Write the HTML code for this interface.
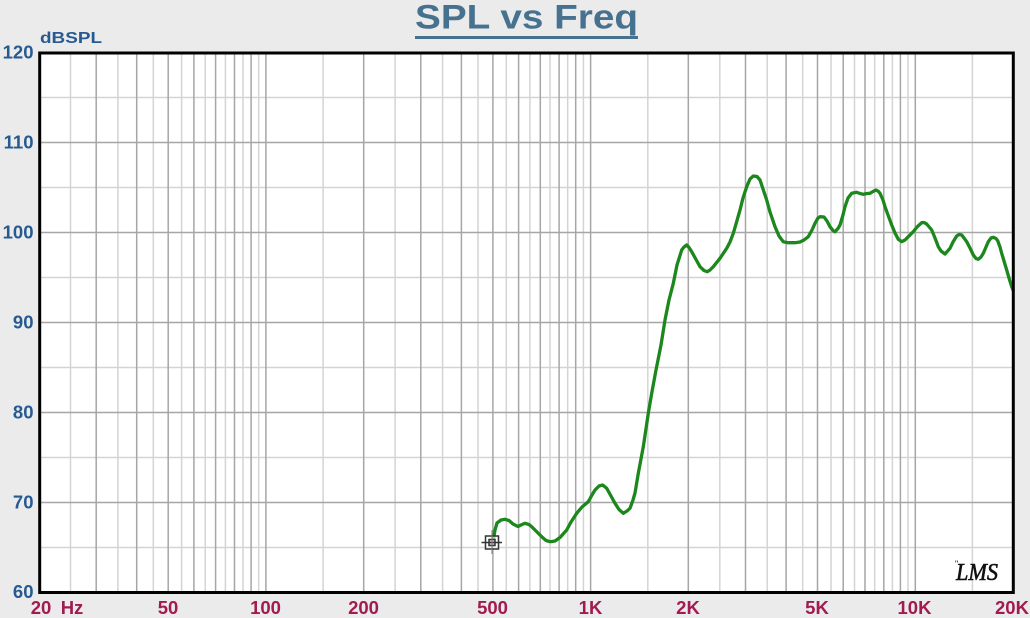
<!DOCTYPE html>
<html>
<head>
<meta charset="utf-8">
<style>
html,body{margin:0;padding:0;background:#ebebeb;}
svg{display:block;}
</style>
</head>
<body>
<svg width="1030" height="618" viewBox="0 0 1030 618" xmlns="http://www.w3.org/2000/svg">
<rect x="0" y="0" width="1030" height="618" fill="#ebebeb"/>
<rect x="39.7" y="53" width="973.6" height="539.5" fill="#ffffff"/>

<!-- light vertical grid (half multiples) -->
<g stroke="#d4d4d4" stroke-width="1.5">
<line x1="70.5" y1="53" x2="70.5" y2="592.5"/>
<line x1="117.9" y1="53" x2="117.9" y2="592.5"/>
<line x1="153.3" y1="53" x2="153.3" y2="592.5"/>
<line x1="181.6" y1="53" x2="181.6" y2="592.5"/>
<line x1="205.2" y1="53" x2="205.2" y2="592.5"/>
<line x1="225.4" y1="53" x2="225.4" y2="592.5"/>
<line x1="243.0" y1="53" x2="243.0" y2="592.5"/>
<line x1="258.7" y1="53" x2="258.7" y2="592.5"/>
<line x1="323.1" y1="53" x2="323.1" y2="592.5"/>
<line x1="395.1" y1="53" x2="395.1" y2="592.5"/>
<line x1="442.6" y1="53" x2="442.6" y2="592.5"/>
<line x1="478.0" y1="53" x2="478.0" y2="592.5"/>
<line x1="506.3" y1="53" x2="506.3" y2="592.5"/>
<line x1="529.9" y1="53" x2="529.9" y2="592.5"/>
<line x1="550.0" y1="53" x2="550.0" y2="592.5"/>
<line x1="567.7" y1="53" x2="567.7" y2="592.5"/>
<line x1="583.4" y1="53" x2="583.4" y2="592.5"/>
<line x1="647.8" y1="53" x2="647.8" y2="592.5"/>
<line x1="719.8" y1="53" x2="719.8" y2="592.5"/>
<line x1="767.2" y1="53" x2="767.2" y2="592.5"/>
<line x1="802.7" y1="53" x2="802.7" y2="592.5"/>
<line x1="831.0" y1="53" x2="831.0" y2="592.5"/>
<line x1="854.5" y1="53" x2="854.5" y2="592.5"/>
<line x1="874.7" y1="53" x2="874.7" y2="592.5"/>
<line x1="892.4" y1="53" x2="892.4" y2="592.5"/>
<line x1="908.0" y1="53" x2="908.0" y2="592.5"/>
<line x1="972.4" y1="53" x2="972.4" y2="592.5"/>
</g>
<!-- light horizontal grid (5 dB) -->
<g stroke="#d4d4d4" stroke-width="1.5">
<line x1="39.7" y1="97.5" x2="1013.3" y2="97.5"/>
<line x1="39.7" y1="187.5" x2="1013.3" y2="187.5"/>
<line x1="39.7" y1="277.5" x2="1013.3" y2="277.5"/>
<line x1="39.7" y1="367.5" x2="1013.3" y2="367.5"/>
<line x1="39.7" y1="457.5" x2="1013.3" y2="457.5"/>
<line x1="39.7" y1="547.5" x2="1013.3" y2="547.5"/>
</g>
<!-- dark vertical grid -->
<g stroke="#a6a6a6" stroke-width="1.5">
<line x1="96.2" y1="53" x2="96.2" y2="592.5"/>
<line x1="136.7" y1="53" x2="136.7" y2="592.5"/>
<line x1="168.2" y1="53" x2="168.2" y2="592.5"/>
<line x1="193.9" y1="53" x2="193.9" y2="592.5"/>
<line x1="215.6" y1="53" x2="215.6" y2="592.5"/>
<line x1="234.5" y1="53" x2="234.5" y2="592.5"/>
<line x1="251.1" y1="53" x2="251.1" y2="592.5"/>
<line x1="265.9" y1="53" x2="265.9" y2="592.5"/>
<line x1="363.7" y1="53" x2="363.7" y2="592.5"/>
<line x1="420.8" y1="53" x2="420.8" y2="592.5"/>
<line x1="461.4" y1="53" x2="461.4" y2="592.5"/>
<line x1="492.9" y1="53" x2="492.9" y2="592.5"/>
<line x1="518.6" y1="53" x2="518.6" y2="592.5"/>
<line x1="540.3" y1="53" x2="540.3" y2="592.5"/>
<line x1="559.1" y1="53" x2="559.1" y2="592.5"/>
<line x1="575.7" y1="53" x2="575.7" y2="592.5"/>
<line x1="590.6" y1="53" x2="590.6" y2="592.5"/>
<line x1="688.3" y1="53" x2="688.3" y2="592.5"/>
<line x1="745.5" y1="53" x2="745.5" y2="592.5"/>
<line x1="786.1" y1="53" x2="786.1" y2="592.5"/>
<line x1="817.5" y1="53" x2="817.5" y2="592.5"/>
<line x1="843.2" y1="53" x2="843.2" y2="592.5"/>
<line x1="865.0" y1="53" x2="865.0" y2="592.5"/>
<line x1="883.8" y1="53" x2="883.8" y2="592.5"/>
<line x1="900.4" y1="53" x2="900.4" y2="592.5"/>
<line x1="915.3" y1="53" x2="915.3" y2="592.5"/>
</g>
<!-- dark horizontal grid (10 dB) -->
<g stroke="#a6a6a6" stroke-width="1.5">
<line x1="39.7" y1="142.5" x2="1013.3" y2="142.5"/>
<line x1="39.7" y1="232.5" x2="1013.3" y2="232.5"/>
<line x1="39.7" y1="322.5" x2="1013.3" y2="322.5"/>
<line x1="39.7" y1="412.5" x2="1013.3" y2="412.5"/>
<line x1="39.7" y1="502.5" x2="1013.3" y2="502.5"/>
</g>

<!-- curve -->
<polyline fill="none" stroke="#1c871c" stroke-width="3.3" stroke-linejoin="round" stroke-linecap="round"
points="493.5,539 495,530 497,523 501,520 505,519.3 509,520.5 513,524 518,526.5 522,524.5 525,523.3 529,524.5 532,527 537,532 542,537 546,540.5 550,541.7 555,541 560,537.5 566.7,530 571,522 576.7,513.3 582,507 588.3,501.7 592,495 595,490 599,486 602.7,485 606.7,488.3 611,496 615,503.3 619,509.5 623.3,513.3 627,511 630,508.3 633,500 635,493 638.3,473.3 643.3,446.7 648.3,413.3 651.7,393.3 656,370 661,345 665,320 669,300 673.3,283.3 677,265 681.7,250 684,247 686.7,245 689,247.5 691.7,251.7 696,259.5 700,266.7 704,270.5 707.3,271.7 710,270 713.3,266.7 720,258.3 726.7,248.3 730,242 733.3,233.3 736,224 740,210 743,198 746.7,186.7 750,179 753.3,176 757,176.5 760,180 763,189 766.7,200 770,212 775,226.7 779,236 783.3,241.7 788,242.7 795,242.7 800,242 804,240 808.3,236.7 812,230 815,223.3 818,218 820,216.7 824,217 827,221 830,226.7 833,230.5 835,231.7 838,228.5 840,225 843,215 845,206.7 848,198 851.7,193.3 856.7,192.3 860,193.5 863.3,194.3 867,193.5 870,193.3 873,191.5 876,190 878.5,191.5 880,193.3 883,200 885,206.7 888,215 891.7,225 895,233 898.3,239.3 901.7,241.7 905,240 908.3,236.7 913.3,231.7 917,227 921.7,222.7 924,222.5 926.7,224 931.7,230 935,238 938.3,246.7 941,251 945,254 950,248.3 953,242 956.7,236 959,234.5 961.7,235 964,238 966.7,241.7 970,248 973.3,255 976,258.5 978.3,259.3 981,257 983.3,253.3 986,247 988.3,241.7 991,238 993.3,237.3 996,238.5 997.7,240.7 1000,247 1001.7,253.3 1004,261 1006.7,270 1009,278 1011.7,286.7 1013,290"/>

<!-- marker -->
<g stroke="#333" fill="none" stroke-width="1.5">
<rect x="485.5" y="536" width="13" height="13" fill="#ffffff" fill-opacity="0.6"/>
<rect x="489" y="539.5" width="6" height="6" fill="#e0c8e0"/>
<line x1="481.5" y1="542.5" x2="502" y2="542.5"/>
<line x1="492" y1="530" x2="492" y2="554" stroke="#777" stroke-width="1"/>
</g>

<!-- frame -->
<rect x="39.7" y="53" width="973.6" height="539.5" fill="none" stroke="#000" stroke-width="3"/>

<!-- LMS logo -->
<text x="956" y="580" font-family="Liberation Serif, serif" font-style="italic" font-size="24" fill="#111" stroke="#111" stroke-width="0.6" textLength="42" lengthAdjust="spacingAndGlyphs">LMS</text>
<text x="955" y="567" font-family="Liberation Sans, sans-serif" font-size="9" fill="#111">"</text>

<!-- title -->
<text x="415" y="28.5" font-family="Liberation Sans, sans-serif" font-weight="bold" font-size="34" fill="#46718f" textLength="223" lengthAdjust="spacingAndGlyphs">SPL vs Freq</text>
<rect x="415" y="36" width="223" height="3" fill="#46718f"/>

<!-- y axis unit -->
<text x="40" y="42.8" font-family="Liberation Sans, sans-serif" font-weight="bold" font-size="15.5" fill="#275a90" textLength="62" lengthAdjust="spacingAndGlyphs">dBSPL</text>

<!-- y labels -->
<g font-family="Liberation Sans, sans-serif" font-weight="bold" font-size="18.5" fill="#275a90" text-anchor="end">
<text x="33.5" y="58.5">120</text>
<text x="33.5" y="148.5">110</text>
<text x="33.5" y="238.5">100</text>
<text x="33.5" y="328.5">90</text>
<text x="33.5" y="418.5">80</text>
<text x="33.5" y="508.5">70</text>
<text x="33.5" y="598">60</text>
</g>

<!-- x labels -->
<g font-family="Liberation Sans, sans-serif" font-weight="bold" font-size="18.5" fill="#a11a50" text-anchor="middle">
<text x="41" y="614">20</text>
<text x="72" y="614">Hz</text>
<text x="168" y="614">50</text>
<text x="265.5" y="614">100</text>
<text x="363.5" y="614">200</text>
<text x="492.5" y="614">500</text>
<text x="590.5" y="614">1K</text>
<text x="688" y="614">2K</text>
<text x="817" y="614">5K</text>
<text x="914.5" y="614">10K</text>
<text x="1012" y="614">20K</text>
</g>
</svg>
</body>
</html>
